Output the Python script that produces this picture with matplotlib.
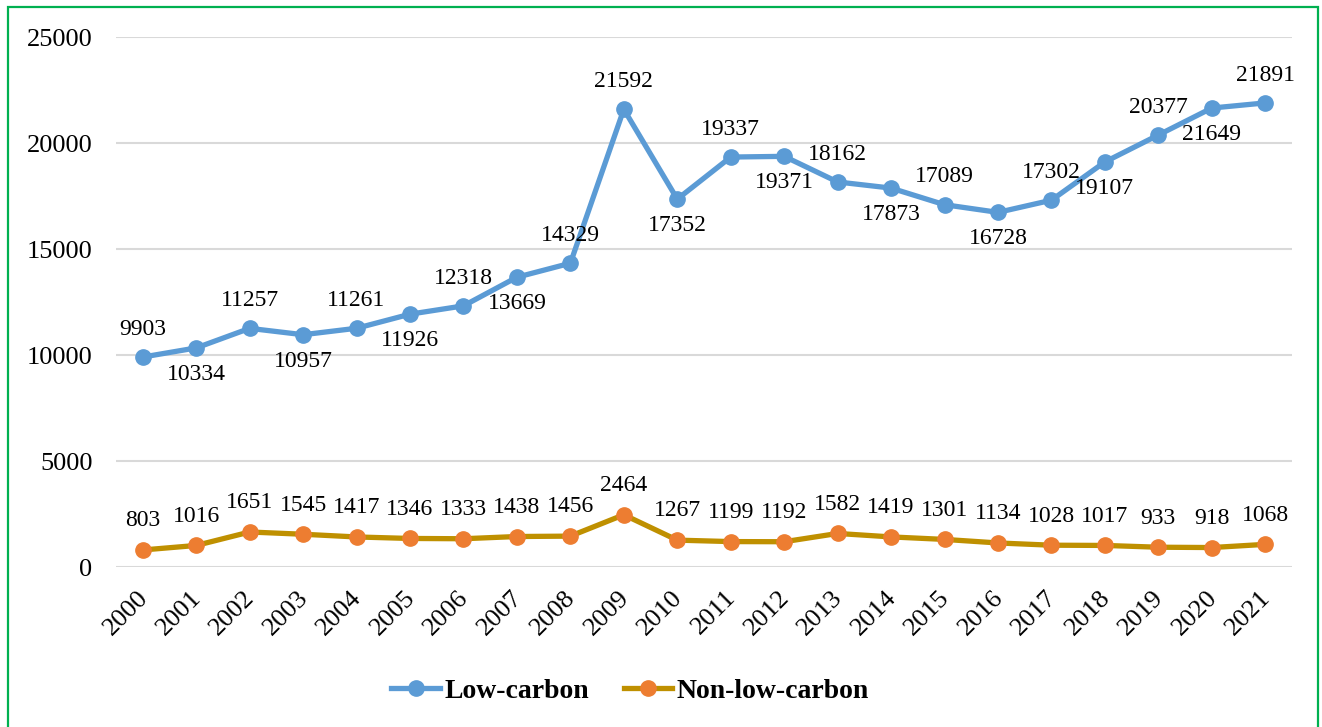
import matplotlib.pyplot as plt
import matplotlib.patches as patches
from matplotlib.transforms import ScaledTranslation

plt.rcParams['font.family'] = ['Liberation Serif', 'DejaVu Serif']

years = [str(y) for y in range(2000, 2022)]
low_carbon = [9903, 10334, 11257, 10957, 11261, 11926, 12318, 13669, 14329, 21592, 17352,
              19337, 19371, 18162, 17873, 17089, 16728, 17302, 19107, 20377, 21649, 21891]
non_low_carbon = [803, 1016, 1651, 1545, 1417, 1346, 1333, 1438, 1456, 2464, 1267,
                  1199, 1192, 1582, 1419, 1301, 1134, 1028, 1017, 933, 918, 1068]
# label above (1) or below (-1) the point for the low-carbon series
low_label_side = [1, -1, 1, -1, 1, -1, 1, -1, 1, 1, -1,
                  1, -1, 1, -1, 1, -1, 1, -1, 1, -1, 1]

fig = plt.figure(figsize=(13.22, 7.27), dpi=100)
ax = fig.add_axes([116 / 1322, 1 - 567 / 727, 1176 / 1322, 530 / 727])

x = list(range(len(years)))
ax.plot(x, low_carbon, color='#5B9BD5', lw=3.8, marker='o', markersize=11,
        markerfacecolor='#5B9BD5', markeredgecolor='#5B9BD5', label='Low-carbon', zorder=3)
ax.plot(x, non_low_carbon, color='#BF9000', lw=3.8, marker='o', markersize=11,
        markerfacecolor='#ED7D31', markeredgecolor='#ED7D31', label='Non-low-carbon', zorder=3)

for i, v in enumerate(low_carbon):
    off = 20 if low_label_side[i] > 0 else -19
    ax.annotate(str(v), (i, v), xytext=(0, off), textcoords='offset points',
                ha='center', va='center', fontsize=17)
for i, v in enumerate(non_low_carbon):
    ax.annotate(str(v), (i, v), xytext=(0, 21), textcoords='offset points',
                ha='center', va='center', fontsize=17)

ax.set_xlim(-0.5, len(years) - 0.5)
ax.set_ylim(0, 25000)
ax.set_yticks(range(0, 25001, 5000))
ax.set_xticks(x)
ax.set_xticklabels(years, rotation=45, ha='right', va='top', rotation_mode='anchor')
ax.tick_params(axis='both', length=0, labelsize=19)
ax.tick_params(axis='y', pad=17)
ax.tick_params(axis='x', pad=14)
shift = ScaledTranslation(-6 / 100, 0, fig.dpi_scale_trans)
for lbl in ax.get_xticklabels():
    lbl.set_transform(lbl.get_transform() + shift)
ax.grid(axis='y', color='#D9D9D9', lw=1.5)
ax.set_axisbelow(True)
for s in ax.spines.values():
    s.set_visible(False)

fig.legend(loc='center', bbox_to_anchor=(630 / 1322, 1 - 691 / 727), ncol=2, frameon=False,
           prop={'weight': 'bold', 'size': 20}, handlelength=1.75, columnspacing=1.25,
           handletextpad=0.15)

fig.patches.append(patches.Rectangle((8 / 1322, -0.01), 1310 / 1322, 1 - 7 / 727 + 0.01,
                                     transform=fig.transFigure, fill=False,
                                     edgecolor='#00B050', lw=1.6))

fig.savefig('out.png', dpi=100)
